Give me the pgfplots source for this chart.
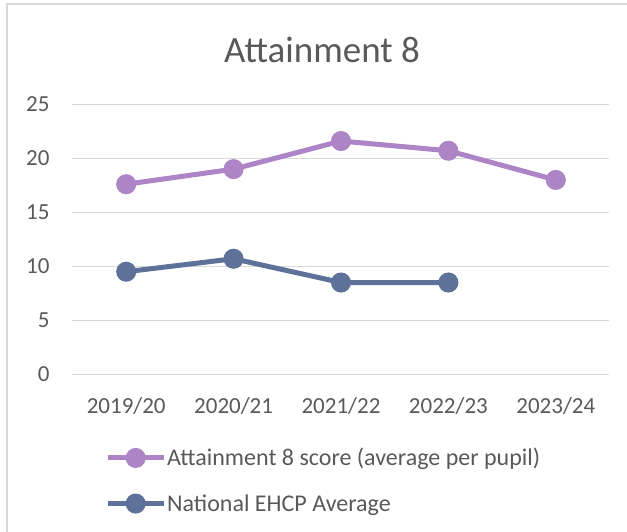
\documentclass[border=0pt]{standalone}
\usepackage{fontspec}
\setmainfont{Carlito}
\usepackage{pgfplots}
\pgfplotsset{compat=1.18}
\definecolor{purp}{RGB}{173,132,198}
\definecolor{slate}{RGB}{94,114,153}
\definecolor{gridc}{RGB}{217,217,217}
\definecolor{txt}{RGB}{89,89,89}
\begin{document}
\begin{tikzpicture}[x=1pt,y=1pt]
\useasboundingbox (0,0) rectangle (627,532);
\draw[gridc, line width=2pt] (7,0) -- (7,528) -- (627,528);
\node[txt, font=\fontsize{37}{42}\selectfont] at (322,482) {Attainment 8};
\begin{axis}[
  at={(67.5,146)}, anchor=south west,
  scale only axis, width=537pt, height=270pt,
  xmin=-0.5, xmax=4.5, ymin=0, ymax=25,
  xtick={0,1,2,3,4},
  xticklabels={2019/20,2020/21,2021/22,2022/23,2023/24},
  ytick={0,5,10,15,20,25},
  axis line style={draw=none},
  major tick length=0pt,
  ymajorgrids, grid style={gridc, line width=1.5pt},
  /pgf/number format/assume math mode=true,
  tick label style={txt, font=\fontsize{23}{27}\selectfont},
  yticklabel style={xshift=-19.5pt},
  xticklabel style={yshift=-20pt},
  clip=false,
  legend style={at={(0.0605,-0.27)}, anchor=north west, draw=none, fill=none,
    font=\fontsize{24}{28}\selectfont, text=txt, row sep=25pt,
    inner sep=0pt, nodes={inner sep=1pt}},
  legend cell align=left,
  legend image code/.code={\draw[#1, mark repeat=2, mark phase=2] plot coordinates {(0pt,0pt) (28pt,0pt) (56pt,0pt)};},
]
\addplot[purp, line width=5pt, mark=*, mark size=7.5pt, mark options={solid}] coordinates {(0,17.6) (1,19.0) (2,21.6) (3,20.7) (4,18.0)};
\addlegendentry{Attainment 8 score (average per pupil)}
\addplot[slate, line width=5pt, mark=*, mark size=7.5pt, mark options={solid}] coordinates {(0,9.5) (1,10.7) (2,8.5) (3,8.5)};
\addlegendentry{National EHCP Average}
\end{axis}
\end{tikzpicture}
\end{document}
